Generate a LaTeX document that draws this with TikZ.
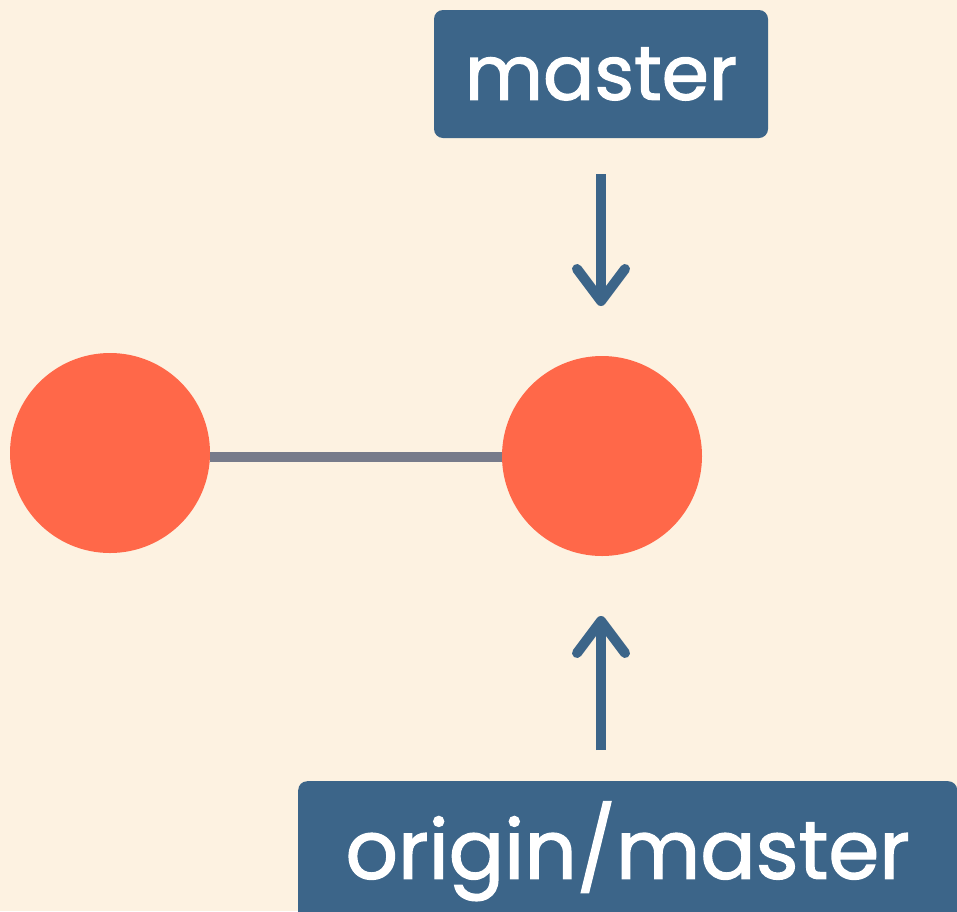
\documentclass[tikz,border=0pt]{standalone}
\usepackage{fontspec}
\setmainfont{Poppins}
\newfontfamily\labelfont{Poppins}[FakeBold=1.6]
\usetikzlibrary{calc}
\definecolor{bgcream}{HTML}{FDF2E1}
\definecolor{commitred}{HTML}{FF6849}
\definecolor{refblue}{HTML}{3C6589}
\definecolor{edgegray}{HTML}{777B8A}
\begin{document}
\begin{tikzpicture}[x=1pt,y=-1pt,
  commit/.style={circle,fill=commitred,minimum size=200pt,inner sep=0pt},
  reflabel/.style={fill=refblue,text=white,rounded corners=9pt,inner sep=0pt},
  pointer/.style={draw=refblue,line width=10pt,line cap=round,line join=round},
  link/.style={draw=edgegray,line width=10pt}]
  % canvas
  \fill[bgcream] (0,0) rectangle (957,911);
  \useasboundingbox (0,0) rectangle (957,911);
  % history
  \node[commit] (c1) at (110,453) {};
  \node[commit] (c2) at (602,456) {};
  \path[link] (c1.east |- 0,457) -- (c2.west |- 0,457);
  % branch labels
  \node[reflabel,minimum width=334pt,minimum height=128pt,
    font=\labelfont\fontsize{76}{80}\selectfont] (master) at (601,74) {master};
  \node[reflabel,minimum width=659pt,minimum height=140pt,anchor=north west,
    font=\labelfont\fontsize{82}{86}\selectfont] (origin) at (298,781) {origin/master};
  % pointers
  \coordinate (mtail) at (601,174);
  \coordinate (mtip) at (601,301);
  \coordinate (otail) at (601,750);
  \coordinate (otip) at (601,621);
  \draw[draw=refblue,line width=10pt] (mtail) -- (mtip);
  \draw[pointer] ($(mtip)+(-24,-32)$) -- (mtip) -- ($(mtip)+(24,-32)$);
  \draw[draw=refblue,line width=10pt] (otail) -- (otip);
  \draw[pointer] ($(otip)+(-24,32)$) -- (otip) -- ($(otip)+(24,32)$);
\end{tikzpicture}
\end{document}
